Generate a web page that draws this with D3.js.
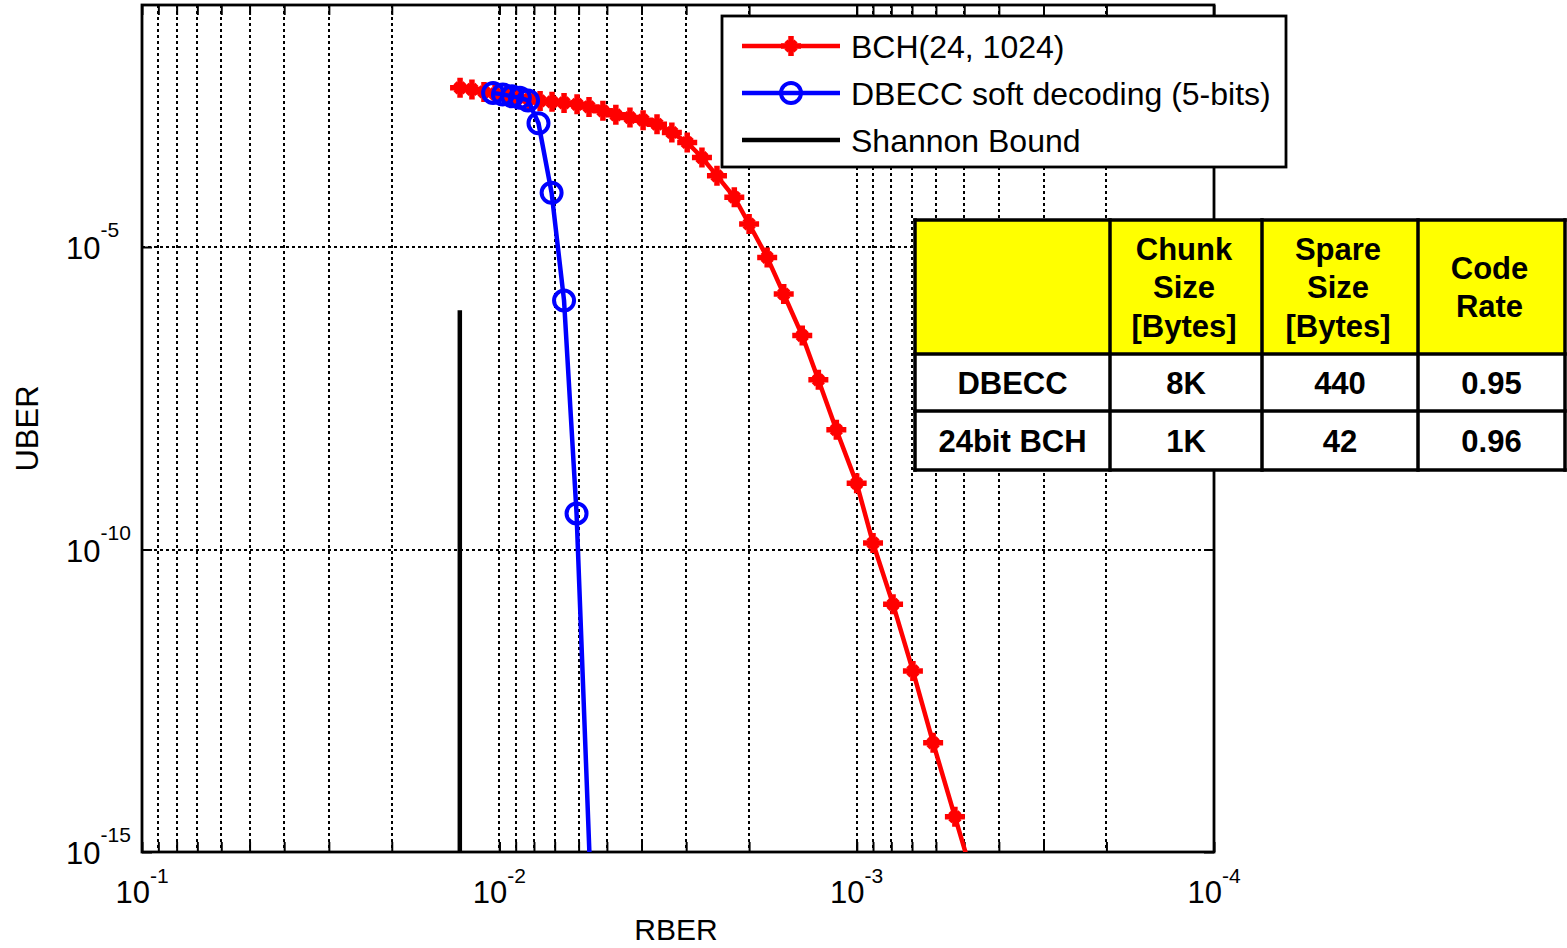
<!DOCTYPE html>
<html>
<head>
<meta charset="utf-8">
<script src="https://cdn.jsdelivr.net/npm/d3@7/dist/d3.min.js"></script>
<style>
  html, body { margin: 0; padding: 0; background: #fff; }
  svg { display: block; font-family: "Liberation Sans", Arial, Helvetica, sans-serif; }
</style>
</head>
<body>
<svg id="chart" width="1567" height="948"></svg>
<script>
// ---------------- DATA ----------------
const bchRBER = [0.01288, 0.01193, 0.01104, 0.01028, 0.00952, 0.00887, 0.00826, 0.00769, 0.00712, 0.00659,
  0.00606, 0.00561, 0.00513, 0.00472, 0.00431, 0.00396, 0.00362, 0.00329, 0.00298, 0.00271,
  0.00246, 0.00220, 0.00200, 0.00178, 0.00160, 0.00142, 0.00128, 0.00114, 0.00100, 0.000900,
  0.000791, 0.000696, 0.000611, 0.000531, 0.000457];
const bchUBER = [4.27e-3, 4.03e-3, 3.66e-3, 3.40e-3, 3.15e-3, 2.92e-3, 2.75e-3, 2.60e-3, 2.51e-3, 2.41e-3,
  2.28e-3, 2.07e-3, 1.78e-3, 1.53e-3, 1.38e-3, 1.25e-3, 1.07e-3, 7.80e-4, 5.33e-4, 3.01e-4,
  1.50e-4, 6.64e-5, 2.40e-5, 6.73e-6, 1.67e-6, 3.44e-7, 6.37e-8, 9.53e-9, 1.24e-9, 1.28e-10,
  1.24e-11, 9.84e-13, 6.38e-14, 3.83e-15, 1.95e-16];

const dbeccRBER = [0.01041, 0.00977, 0.00922, 0.00876, 0.00831, 0.00777, 0.00714, 0.00659, 0.00608, 0.00556];
const dbeccUBER = [3.52e-3, 3.33e-3, 3.09e-3, 2.92e-3, 2.65e-3, 1.11e-3, 7.87e-5, 1.30e-6, 3.95e-10, 3.45e-16];

const shannonRBER = [0.0129, 0.0129];
const shannonUBER = [9e-7, 1e-16];

const seriesNames = ["BCH(24, 1024)", "DBECC soft decoding (5-bits)", "Shannon Bound"];

const xMajorTicks = [1e-1, 1e-2, 1e-3, 1e-4];
const xTickExponents = ["-1", "-2", "-3", "-4"];
const yMajorTicks = [1e-5, 1e-10, 1e-15];
const yTickExponents = ["-5", "-10", "-15"];
const xMinorMultipliers = [2, 3, 4, 5, 6, 7, 8, 9];

const tableHeader = [[""], ["Chunk", "Size", "[Bytes]"], ["Spare", "Size", "[Bytes]"], ["Code", "Rate"]];
const tableRows = [["DBECC", "8K", "440", "0.95"], ["24bit BCH", "1K", "42", "0.96"]];

const xTitle = "RBER";
const yTitle = "UBER";

// ---------------- LAYOUT ----------------
const svg = d3.select("#chart");
const L = 142, R = 1214, T = 5, B = 852;

const x = d3.scaleLog().domain([1e-1, 1e-4]).range([L, R]);
const y = d3.scaleLog().domain([1e-15, 1e-1]).range([B, T]);

const minorVals = [];
[-2, -3, -4].forEach(e => xMinorMultipliers.forEach(m => minorVals.push(m * Math.pow(10, e))));
const xGridVals = minorVals.concat([1e-2, 1e-3]);

// grid
const grid = svg.append("g");
grid.selectAll("line.vg").data(xGridVals).join("line")
  .attr("x1", d => Math.round(x(d))).attr("x2", d => Math.round(x(d)))
  .attr("y1", T).attr("y2", B)
  .attr("stroke", "#000").attr("stroke-width", 2).attr("stroke-dasharray", "3,3");
grid.selectAll("line.hg").data([1e-5, 1e-10]).join("line")
  .attr("x1", L).attr("x2", R)
  .attr("y1", d => Math.round(y(d))).attr("y2", d => Math.round(y(d)))
  .attr("stroke", "#000").attr("stroke-width", 2).attr("stroke-dasharray", "3,3");

// axes ticks (inward)
const tickLen = 10;
const xAxisB = d3.axisBottom(x).tickValues(xGridVals.concat(xMajorTicks)).tickFormat("").tickSizeInner(-tickLen).tickSizeOuter(0);
const xAxisT = d3.axisTop(x).tickValues(xGridVals.concat(xMajorTicks)).tickFormat("").tickSizeInner(-tickLen).tickSizeOuter(0);
const yAxisL = d3.axisLeft(y).tickValues(yMajorTicks).tickFormat("").tickSizeInner(-tickLen).tickSizeOuter(0);
const yAxisR = d3.axisRight(y).tickValues(yMajorTicks).tickFormat("").tickSizeInner(-tickLen).tickSizeOuter(0);
[[xAxisB, `translate(0,${B})`], [xAxisT, `translate(0,${T})`], [yAxisL, `translate(${L},0)`], [yAxisR, `translate(${R},0)`]]
  .forEach(([ax, tr]) => {
    const g = svg.append("g").attr("transform", tr).call(ax);
    g.select(".domain").remove();
    g.selectAll("line").attr("stroke", "#000").attr("stroke-width", 2);
  });

// frame
svg.append("rect").attr("x", L).attr("y", T).attr("width", R - L).attr("height", B - T)
  .attr("fill", "none").attr("stroke", "#000").attr("stroke-width", 2.8);

// tick labels
const xl = svg.append("g").selectAll("text").data(xMajorTicks).join("text")
  .attr("x", d => x(d)).attr("y", 903).attr("text-anchor", "middle")
  .style("font-size", "31px").attr("fill", "#000");
xl.append("tspan").text("10");
xl.append("tspan").attr("dy", -20).style("font-size", "21px").text((d, i) => xTickExponents[i]);

const yl = svg.append("g").selectAll("text").data(yMajorTicks).join("text")
  .attr("x", 66).attr("y", d => y(d) + 12).attr("text-anchor", "start")
  .style("font-size", "31px").attr("fill", "#000");
yl.append("tspan").text("10");
yl.append("tspan").attr("dy", -22).style("font-size", "21px").text((d, i) => yTickExponents[i]);

// axis titles
svg.append("text").attr("x", (L + R) / 2 - 2).attr("y", 940).attr("text-anchor", "middle")
  .style("font-size", "30px").text(xTitle);
svg.append("text").attr("transform", `translate(38,${(T + B) / 2}) rotate(-90)`).attr("text-anchor", "middle")
  .style("font-size", "31px").text(yTitle);

// clip
svg.append("defs").append("clipPath").attr("id", "plotclip")
  .append("rect").attr("x", L).attr("y", T).attr("width", R - L).attr("height", B - T);
const plot = svg.append("g").attr("clip-path", "url(#plotclip)");

const line = d3.line().x(d => x(d[0])).y(d => y(d[1]));
const bch = bchRBER.map((v, i) => [v, bchUBER[i]]);
const dbecc = dbeccRBER.map((v, i) => [v, dbeccUBER[i]]);
const shannon = shannonRBER.map((v, i) => [v, shannonUBER[i]]);

const plusPath = "M-10,0H10M0,-10V10";
const diagPath = "M-5,-5L5,5M-5,5L5,-5";

function drawBchMarker(sel) {
  sel.append("path").attr("d", plusPath).attr("stroke", "#ff0000").attr("stroke-width", 5.5).attr("fill", "none");
  sel.append("path").attr("d", diagPath).attr("stroke", "#ff0000").attr("stroke-width", 4.5).attr("fill", "none");
}

plot.append("path").datum(shannon).attr("d", line).attr("fill", "none")
  .attr("stroke", "#000").attr("stroke-width", 4.5);

plot.append("path").datum(bch).attr("d", line).attr("fill", "none")
  .attr("stroke", "#ff0000").attr("stroke-width", 4.5);
plot.selectAll("g.bm").data(bch).join("g").attr("class", "bm")
  .attr("transform", d => `translate(${x(d[0])},${y(d[1])})`)
  .call(drawBchMarker);

plot.append("path").datum(dbecc).attr("d", line).attr("fill", "none")
  .attr("stroke", "#0000ff").attr("stroke-width", 4.5);
plot.selectAll("circle.dm").data(dbecc).join("circle").attr("class", "dm")
  .attr("cx", d => x(d[0])).attr("cy", d => y(d[1])).attr("r", 10)
  .attr("fill", "none").attr("stroke", "#0000ff").attr("stroke-width", 4);

// legend
const lg = svg.append("g");
lg.append("rect").attr("x", 722).attr("y", 16).attr("width", 564).attr("height", 151)
  .attr("fill", "#fff").attr("stroke", "#000").attr("stroke-width", 2.8);
const legY = [46, 93, 140];
const legColors = ["#ff0000", "#0000ff", "#000"];
seriesNames.forEach((name, i) => {
  lg.append("line").attr("x1", 742).attr("x2", 840).attr("y1", legY[i]).attr("y2", legY[i])
    .attr("stroke", legColors[i]).attr("stroke-width", 4.5);
  if (i === 0) lg.append("g").attr("transform", `translate(791,${legY[i]})`).call(drawBchMarker);
  if (i === 1) lg.append("circle").attr("cx", 791).attr("cy", legY[i]).attr("r", 10)
    .attr("fill", "none").attr("stroke", "#0000ff").attr("stroke-width", 4);
  lg.append("text").attr("x", 851).attr("y", legY[i] + 11.5).style("font-size", "32px").text(name);
});

// table
const colEdges = [915, 1110, 1262, 1418, 1565];
const rowEdges = [220, 354, 411, 470];
const tb = svg.append("g");
tb.append("rect").attr("x", colEdges[0]).attr("y", rowEdges[0]).attr("width", colEdges[4] - colEdges[0])
  .attr("height", rowEdges[1] - rowEdges[0]).attr("fill", "#ffff00");
tb.append("rect").attr("x", colEdges[0]).attr("y", rowEdges[1]).attr("width", colEdges[4] - colEdges[0])
  .attr("height", rowEdges[3] - rowEdges[1]).attr("fill", "#fff");
colEdges.forEach(cx => tb.append("line").attr("x1", cx).attr("x2", cx).attr("y1", rowEdges[0] - 1.75).attr("y2", rowEdges[3] + 1.75)
  .attr("stroke", "#000").attr("stroke-width", 3.5));
rowEdges.forEach(ry => tb.append("line").attr("x1", colEdges[0] - 1.75).attr("x2", colEdges[4] + 1.75).attr("y1", ry).attr("y2", ry)
  .attr("stroke", "#000").attr("stroke-width", 3.5));
const lh = 38.5;
tableHeader.forEach((lines, c) => {
  const cx = (colEdges[c] + colEdges[c + 1]) / 2;
  const cy = (rowEdges[0] + rowEdges[1]) / 2;
  lines.forEach((t, k) => {
    tb.append("text").attr("x", cx - 2).attr("y", cy + (k - (lines.length - 1) / 2) * lh + 11)
      .attr("text-anchor", "middle").style("font-size", "31px").attr("font-weight", "bold").text(t);
  });
});
tableRows.forEach((row, r) => {
  const cy = (rowEdges[r + 1] + rowEdges[r + 2]) / 2;
  row.forEach((t, c) => {
    const cx = (colEdges[c] + colEdges[c + 1]) / 2;
    tb.append("text").attr("x", cx).attr("y", cy + 11).attr("text-anchor", "middle")
      .style("font-size", "31px").attr("font-weight", "bold").text(t);
  });
});
</script>
</body>
</html>
